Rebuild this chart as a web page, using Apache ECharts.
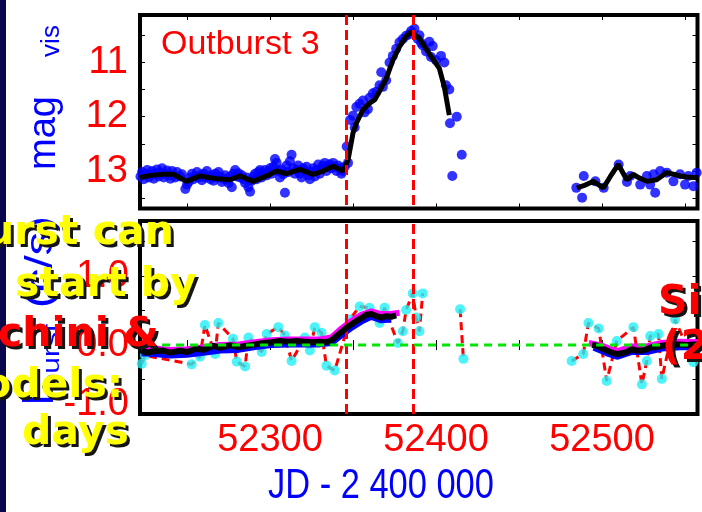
<!DOCTYPE html>
<html><head><meta charset="utf-8">
<script src="https://cdn.jsdelivr.net/npm/echarts@6/dist/echarts.min.js"></script>
<style>html,body{margin:0;padding:0;background:#fff}#c{width:702px;height:512px}</style>
</head><body><div id="c"></div>
<script>
// ---- axis ticks / labels ----
const xTicks = [52250, 52300, 52350, 52400, 52450, 52500, 52550];
const xLabels = [52300, 52400, 52500];
const magTicks = [10.5, 11, 11.5, 12, 12.5, 13, 13.5];
const magLabels = [11, 12, 13];
const rateTicks = [-0.5, 0, 0.5, 1, 1.5];
const rateLabels = [-1, 0, 1];
const outburstMarks = [52346, 52386];   // vertical dashed lines (JD)
const zeroLineJD = [52235, 52558];      // extent of the green zero line

// ---- top panel: visual magnitudes [JD, mag] ----
const visPoints = [
[52222,13.10],[52223,13.02],[52224,13.15],[52225,13.05],[52226,12.98],[52227,13.12],[52228,13.08],[52229,13.00],[52230,13.14],[52231,13.05],
[52232,12.97],[52233,13.10],[52234,13.03],[52235,12.95],[52236,13.12],[52237,13.06],[52238,12.99],[52239,13.08],[52240,13.14],[52241,13.00],
[52242,13.08],[52243,13.12],[52244,13.02],[52246,13.10],[52247,13.06],[52249,13.33],[52250,13.25],[52251,13.20],[52252,13.12],[52253,13.05],
[52254,13.15],[52255,13.10],[52256,13.02],[52257,13.12],[52258,13.08],[52259,13.17],[52260,13.05],[52261,13.12],[52262,13.00],[52263,13.10],
[52264,13.15],[52265,13.08],[52266,13.18],[52267,13.05],[52268,13.12],[52269,13.02],[52270,13.10],[52271,13.20],[52272,13.14],[52273,13.08],
[52274,13.16],[52275,13.22],[52276,13.10],[52277,13.30],[52278,13.05],[52279,12.98],[52280,13.10],[52281,13.04],[52282,13.12],[52283,13.08],
[52284,13.15],[52285,13.22],[52286,13.12],[52287,13.30],[52288,13.38],[52289,13.18],[52290,13.10],[52291,13.05],[52292,13.15],[52293,13.02],
[52294,12.98],[52295,13.12],[52296,13.05],[52297,12.98],[52298,13.08],[52299,13.02],[52300,12.95],[52301,13.05],[52302,12.92],[52303,12.78],
[52304,12.85],[52305,13.00],[52306,13.12],[52307,12.97],[52308,13.06],[52309,13.40],[52310,12.90],[52311,13.02],[52312,12.82],[52313,12.70],
[52314,12.95],[52315,13.05],[52316,12.98],[52317,12.90],[52318,13.05],[52319,13.12],[52320,12.95],[52321,13.00],[52322,12.92],[52323,13.08],
[52324,13.15],[52325,13.02],[52326,12.95],[52327,13.10],[52328,12.98],[52329,12.88],[52330,13.05],[52331,12.95],[52332,12.90],[52333,12.85],
[52334,13.00],[52335,12.92],[52336,12.88],[52337,12.95],[52338,12.85],[52339,12.92],[52340,13.00],[52341,12.90],[52342,12.95],[52343,13.05],
[52344,13.00],[52345,12.92],
[52346.2,12.55],[52347,12.85],[52348.2,12.06],[52350,11.98],[52351,12.2],[52352,11.82],[52354,11.76],[52356,11.7],[52357,11.92],[52359,11.86],
[52360,11.65],[52362,11.57],[52364,11.54],[52366,11.42],[52367,11.18],[52368,11.45],[52370,11.33],[52372,11.0],[52374,10.88],[52376,10.75],
[52378,10.63],[52380,10.57],[52382,10.51],[52384,10.48],[52385,10.42],[52387,10.38],[52389,10.57],[52390,10.5],[52391,10.64],[52392,10.69],
[52394,10.8],[52396,10.62],[52397,10.9],[52398,10.7],[52400,10.96],[52403,10.88],[52405,11.0],[52406,11.42],[52408,11.5],[52408.4,12.12],
[52409.8,13.09],[52412.5,12.0],[52415.5,12.7],
[52484.5,13.31],[52489,13.09],[52488,13.49],[52496,13.19],[52501,13.31],[52510,12.88],[52515,13.2],[52517,13.09],[52523,13.25],[52527,13.09],
[52529,13.25],[52532,13.4],[52531,13.06],[52535,13.0],[52539,13.03],[52543,13.19],[52547,13.06],[52550,13.25],[52552,13.09],[52555,13.28],[52557,13.03]
];
const visTrend1 = [
[52221.7,13.12],[52228,13.08],[52235.7,13.06],[52241.8,13.06],[52249.8,13.19],[52257.8,13.09],[52263,13.12],[52267.9,13.14],[52275.9,13.16],
[52281.9,13.09],[52289.9,13.19],[52298,13.09],[52304,13.0],[52310,13.05],[52318,12.97],[52326,13.06],[52332,13.0],[52338,12.91],[52344,13.0],
[52347,12.8],[52350,12.3],[52352,12.12],[52356,11.87],[52360,11.75],[52363,11.69],[52366,11.53],[52370,11.3],[52374,10.96],[52378,10.71],
[52382,10.52],[52385,10.44],[52390,10.56],[52396,10.84],[52402,11.11],[52405,11.45],[52408,11.97]
];
const visTrend2 = [
[52484.8,13.31],[52489,13.27],[52494.8,13.19],[52500.8,13.31],[52505,13.1],[52509.8,12.88],[52514.9,13.16],[52518.9,13.06],[52522,13.12],
[52526.9,13.19],[52532.9,13.16],[52538.9,13.03],[52543,13.06],[52547,13.09],[52551,13.11],[52555,13.12],[52558,13.12]
];

// ---- bottom panel: count rate [JD, value]; null = gap ----
const ratePoints = [
[52222.7,-0.27],[52224.7,-0.15],[52252.8,-0.28],[52257.8,-0.17],[52260.8,0.29],[52266.9,-0.13],[52268.9,0.32],[52277.7,0.09],[52280,-0.24],
[52285,-0.31],[52287,0.11],[52295,-0.1],[52298,0.16],[52305,0.26],[52309,0.14],[52313,-0.23],[52321,0.11],[52324,-0.08],[52327,0.26],
[52331,0.18],[52334,-0.3],[52339,-0.37],[52348,0.37],[52354,0.56],[52360,0.54],[52366,0.32],[52369,0.54],[52377,0.03],[52380,0.2],
[52382,0.51],[52386,0.75],[52388,0.4],[52390,0.2],[52392,0.75],
null,
[52414.5,0.52],[52416.5,-0.2],
null,
[52481.7,-0.23],[52488.7,-0.13],[52491.8,0.32],[52498,0.24],[52502.8,-0.52],[52508.9,0.06],[52518.9,0.26],[52524,-0.57],[52527,-0.23],
[52529,0.13],[52534,0.16],[52536,-0.49],[52544,0.37],[52555,-0.25],[52558,0.13]
];
const rateTrend = [
[52222.7,-0.08],[52226,-0.11],[52230,-0.09],[52235.7,-0.08],[52240,-0.11],[52245.8,-0.08],[52250,-0.1],[52255.8,-0.05],[52260,-0.07],
[52265.9,-0.01],[52270,-0.04],[52276,0.0],[52281,-0.03],[52286,-0.01],[52291,0.01],[52296,0.03],[52301,0.04],[52306,0.06],[52311,0.05],
[52316,0.06],[52321,0.05],[52326,0.04],[52330,0.05],[52334,0.04],[52337,0.07],[52340,0.13],[52343,0.19],[52346,0.25],[52349,0.3],
[52352,0.35],[52355,0.39],[52358,0.44],[52361,0.45],[52364,0.42],[52367,0.4],[52370,0.42],[52373,0.41],[52376,0.43],
null,
[52494,0.0],[52497,-0.01],[52500,-0.05],[52503,-0.08],[52506,-0.11],[52509,-0.13],[52512,-0.12],[52515,-0.1],[52518,-0.06],[52521,-0.08],
[52524,-0.08],[52527,-0.06],[52530,-0.03],[52533,-0.03],[52536,-0.01],[52539,0.0],[52543,0.01],[52547,0.01],[52551,0.0],[52555,0.01],[52558,0.01]
];
const rateUpper = [
[52222.7,-0.04],[52230,-0.05],[52240,-0.07],[52250,-0.06],[52260,-0.03],[52270,0.0],[52281,0.01],[52291,0.04],[52301,0.07],[52311,0.08],
[52321,0.08],[52330,0.08],[52337,0.11],[52343,0.24],[52349,0.35],[52355,0.44],[52361,0.49],[52367,0.45],[52373,0.45],[52378,0.47],
null,
[52492,0.03],[52500,-0.01],[52509,-0.09],[52518,-0.02],[52527,-0.02],[52536,0.03],[52547,0.05],[52558,0.04]
];
const rateLower = [
[52222.7,-0.12],[52230,-0.13],[52240,-0.15],[52250,-0.14],[52260,-0.11],[52270,-0.08],[52281,-0.07],[52291,-0.03],[52301,0.0],[52311,0.01],
[52321,0.01],[52330,0.01],[52337,0.03],[52343,0.14],[52349,0.25],[52355,0.34],[52361,0.41],[52367,0.36],[52373,0.37],
null,
[52495,-0.04],[52503,-0.12],[52509,-0.17],[52518,-0.1],[52527,-0.1],[52536,-0.05],[52547,-0.03],[52558,-0.03]
];

const gap = a => a.map(p => p === null ? ['-', '-'] : p);
const labFont = '"Liberation Sans",Arial';
const lab = {color:'#ff0000', fontSize:38, fontFamily:labFont};
const tick = {inside:true, length:5, lineStyle:{color:'#000', width:1}};
const vMark = {symbol:'none', silent:true, label:{show:false},
  lineStyle:{color:'#ff0000', width:3, type:[10,5]}, data: outburstMarks.map(v => ({xAxis:v}))};
const overlayFont = 'bold 41px "DejaVu Sans"';
function overlay(x, y, text, fill) {
  return [
    {type:'text', x:x + 3, y:y + 3, z:105, style:{text:text, fill:'#151515', font:overlayFont, verticalAlign:'middle'}},
    {type:'text', x:x, y:y, z:110, style:{text:text, fill:fill, font:overlayFont, verticalAlign:'middle'}}
  ];
}

function xAx(grid, pos, labels) {
  return {type:'value', gridIndex:grid, position:pos, min:52221.7, max:52557.5,
    axisLine:{show:false}, splitLine:{show:false},
    axisTick:Object.assign({customValues:xTicks}, tick),
    axisLabel:labels ? Object.assign({customValues:xLabels, margin:8, formatter: v => String(v)}, lab) : {show:false}};
}

const chart = echarts.init(document.getElementById('c'));
chart.setOption({
  animation:false,
  backgroundColor:'#fff',
  grid:[
    {left:140, top:15, width:557.5, height:193.5, show:true, borderColor:'#000', borderWidth:4, backgroundColor:'transparent'},
    {left:140, top:221, width:557.5, height:193, show:true, borderColor:'#000', borderWidth:4, backgroundColor:'transparent'}
  ],
  xAxis:[ xAx(0,'bottom',false), xAx(0,'top',false), xAx(1,'bottom',true), xAx(1,'top',false) ],
  yAxis:[
    {type:'value', gridIndex:0, position:'left', inverse:true, min:10.127, max:13.69, axisLine:{show:false}, splitLine:{show:false},
     axisTick:Object.assign({customValues:magTicks}, tick),
     axisLabel:Object.assign({customValues:magLabels, margin:12}, lab)},
    {type:'value', gridIndex:0, position:'right', inverse:true, min:10.127, max:13.69, axisLine:{show:false}, splitLine:{show:false},
     axisTick:Object.assign({customValues:magTicks}, tick), axisLabel:{show:false}},
    {type:'value', gridIndex:1, position:'left', min:-1.0, max:1.8, axisLine:{show:false}, splitLine:{show:false},
     axisTick:Object.assign({customValues:rateTicks}, tick),
     axisLabel:Object.assign({customValues:rateLabels, margin:11, verticalAlignMinLabel:'bottom',
        formatter: v => v === rateLabels[0] ? '{lo|' + v.toFixed(1) + '}' : v.toFixed(1),
        rich:{lo:{color:'#ff0000', fontSize:38, fontFamily:labFont, lineHeight:18}}}, lab)},
    {type:'value', gridIndex:1, position:'right', min:-1.0, max:1.8, axisLine:{show:false}, splitLine:{show:false},
     axisTick:Object.assign({customValues:rateTicks}, tick), axisLabel:{show:false}}
  ],
  series:[
    {type:'scatter', xAxisIndex:0, yAxisIndex:0, data:visPoints, symbolSize:10, itemStyle:{color:'#0000ff'}, z:2},
    {type:'line', xAxisIndex:0, yAxisIndex:0, data:visTrend1, showSymbol:false, lineStyle:{color:'#000', width:5}, z:3, markLine:vMark},
    {type:'line', xAxisIndex:0, yAxisIndex:0, data:visTrend2, showSymbol:false, lineStyle:{color:'#000', width:5}, z:3},

    {type:'line', xAxisIndex:2, yAxisIndex:2, data:gap(ratePoints), showSymbol:false, connectNulls:false,
      lineStyle:{color:'#ff0000', width:3, type:[8,5]}, z:2},
    {type:'scatter', xAxisIndex:2, yAxisIndex:2, data:ratePoints.filter(p => p !== null), symbolSize:10, itemStyle:{color:'#1ff0f6'}, z:3},
    {type:'line', xAxisIndex:2, yAxisIndex:2, data:gap(rateUpper), showSymbol:false, connectNulls:false, lineStyle:{color:'#ff00ff', width:6}, z:4},
    {type:'line', xAxisIndex:2, yAxisIndex:2, data:gap(rateLower), showSymbol:false, connectNulls:false, lineStyle:{color:'#0000ff', width:6}, z:4},
    {type:'line', xAxisIndex:2, yAxisIndex:2, data:gap(rateTrend), showSymbol:false, connectNulls:false, lineStyle:{color:'#000', width:6}, z:5},
    {type:'line', xAxisIndex:2, yAxisIndex:2, data:zeroLineJD.map(x => [x, 0]), showSymbol:false,
      lineStyle:{color:'#00e600', width:3, type:[8,6]}, z:6, markLine:vMark}
  ],
  graphic:[
    {type:'rect', shape:{x:0, y:0, width:6, height:512}, style:{fill:'#07074a'}, z:100},
    {type:'text', x:161, y:45, z:100, style:{text:'Outburst 3', fill:'#ff0000', font:'34px "Liberation Sans"', verticalAlign:'middle'}},
    {type:'text', x:268, y:486, scaleX:0.82, z:100, style:{text:'JD - 2 400 000', fill:'#0000ff', font:'42px "Liberation Sans"', verticalAlign:'middle'}},
    {type:'text', x:45, y:133, rotation:Math.PI/2, z:100, style:{text:'mag', fill:'#0000ff', font:'38px "Liberation Sans"', align:'center', verticalAlign:'middle'}},
    {type:'text', x:52, y:41, rotation:Math.PI/2, z:100, style:{text:'vis', fill:'#0000ff', font:'26px "Liberation Sans"', align:'center', verticalAlign:'middle'}},
    {type:'text', x:42, y:262, rotation:Math.PI/2, scaleX:1.25, z:100, style:{text:'(c/s)', fill:'#0000ff', font:'38px "Liberation Sans"', align:'center', verticalAlign:'middle'}},
    {type:'text', x:52, y:357, rotation:Math.PI/2, scaleX:1.25, z:100, style:{text:'burst', fill:'#0000ff', font:'24px "Liberation Sans"', align:'center', verticalAlign:'middle'}},
    {type:'text', x:41, y:400, rotation:Math.PI/2, z:100, style:{text:'I', fill:'#0000ff', font:'44px "Liberation Sans"', align:'center', verticalAlign:'middle'}}
  ].concat(
    overlay(-15, 233, 'urst can', '#ffff00'),
    overlay(15, 285, 'start by', '#ffff00'),
    overlay(-2, 335, 'chini &', '#ff0000'),
    overlay(-17, 386, 'odels:', '#ffff00'),
    overlay(22, 433, 'days', '#ffff00'),
    overlay(658, 303, 'Si', '#ff0000'),
    overlay(662, 348, '(2', '#ff0000')
  )
});
</script></body></html>
